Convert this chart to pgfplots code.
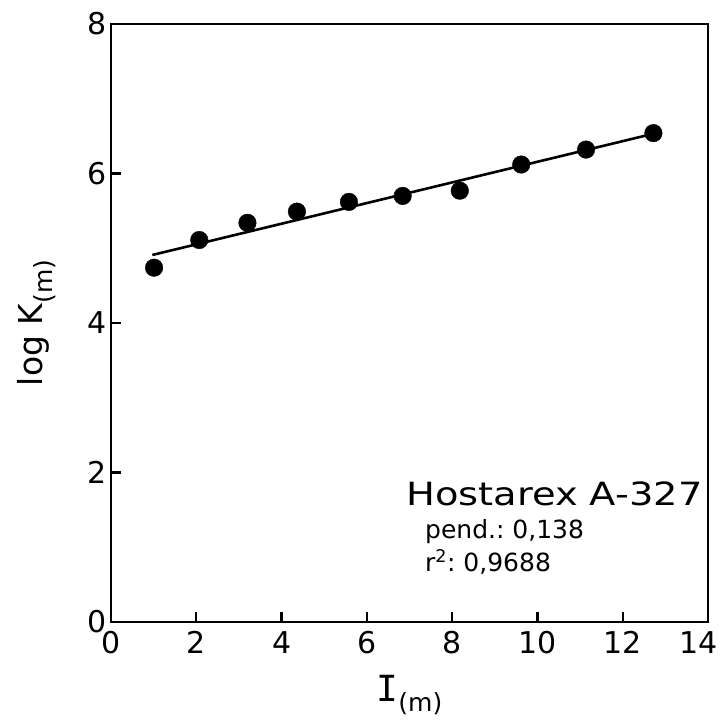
\documentclass[border=0pt]{standalone}
\usepackage{pgfplots}
\pgfplotsset{compat=1.18}
\usepackage{fontspec}
\setmainfont{DejaVu Sans}
\newfontfamily\serifI{DejaVu Sans Mono}
\begin{document}
\begin{tikzpicture}
\useasboundingbox (0pt,0pt) rectangle (726pt,720pt);
\begin{axis}[
  at={(111pt,98pt)}, anchor=south west,
  scale only axis, width=597pt, height=598pt,
  xmin=0, xmax=14, ymin=0, ymax=8,
  xtick={0,2,...,14}, ytick={0,2,...,8},
  xticklabels={0,2,4,6,8,10,12,{\hspace*{-18pt}14}},
  xtick pos=bottom, ytick pos=left,
  tick align=inside,
  major tick length=10pt,
  axis line style={line width=2.6pt},
  every tick/.style={line width=2.2pt, black},
  /pgf/number format/assume math mode=true,
  tick label style={font=\fontsize{30}{30}\selectfont},
  xticklabel style={yshift=-6pt},
  yticklabel style={xshift=-1pt},
  xlabel={{\serifI\fontsize{36}{36}\selectfont I}\raisebox{-10pt}{\fontsize{25}{25}\selectfont(m)}},
  ylabel={log K\raisebox{-10pt}{\fontsize{25}{25}\selectfont(m)}},
  label style={font=\fontsize{33}{33}\selectfont},
  xlabel style={at={(axis description cs:0.5,0)}, anchor=north, yshift=-50pt},
  ylabel style={at={(axis description cs:0,0.5)}, anchor=south, yshift=52pt},
]
\addplot[only marks, mark=*, mark size=8.8pt, black] coordinates {
(1.01,4.74) (2.07,5.11) (3.20,5.34) (4.36,5.49) (5.58,5.62)
(6.84,5.70) (8.18,5.77) (9.62,6.12) (11.14,6.32) (12.72,6.54)};
\addplot[black, line width=2.6pt] coordinates {(0.97,4.91) (12.56,6.51)};
\end{axis}
\node[anchor=west, inner sep=0pt, font=\fontsize{32}{32}\selectfont] at (406pt,{720pt-494pt}) {\scalebox{1.2}[1]{Hostarex A-327}};
\node[anchor=west, inner sep=0pt, font=\fontsize{25}{25}\selectfont] at (425pt,{720pt-532pt}) {pend.:\ 0,138};
\node[anchor=west, inner sep=0pt, font=\fontsize{25}{25}\selectfont] at (425pt,{720pt-562pt}) {r\textsuperscript{2}:\ 0,9688};
\end{tikzpicture}
\end{document}
